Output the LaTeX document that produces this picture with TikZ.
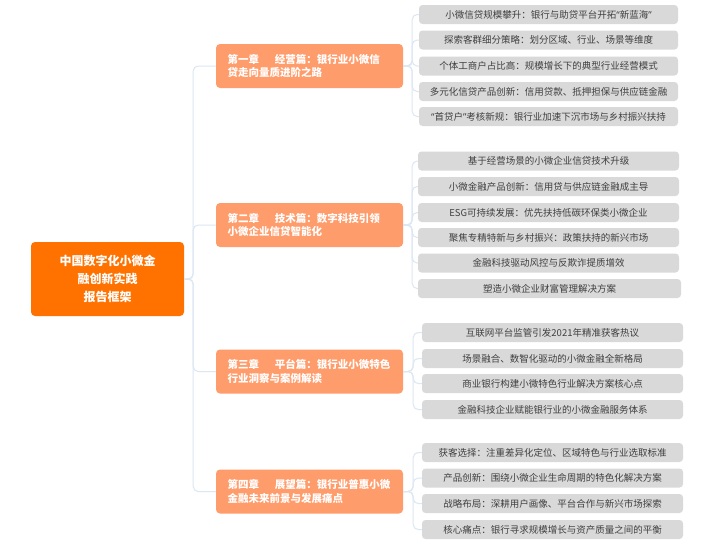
\documentclass[tikz,border=0pt]{standalone}
\usepackage{fontspec}
\newfontfamily\cjk{Noto Sans CJK SC}
\newfontfamily\latq{Noto Sans}
\definecolor{rootc}{HTML}{FF7200}
\definecolor{chc}{HTML}{FF9C6B}
\definecolor{leafc}{HTML}{D9D9D9}
\definecolor{leaft}{HTML}{3F3F3F}
\definecolor{linec}{HTML}{DCE7F4}
\tikzset{
  rootbox/.style={fill=rootc, rounded corners=4pt, text=white, font=\cjk\bfseries\fontsize{12}{18}\selectfont, align=center, minimum width=153pt, minimum height=74pt, inner sep=0pt},
  chbox/.style={fill=chc, rounded corners=4pt, text=white, font=\cjk\bfseries\fontsize{10.5}{13.5}\selectfont, align=left, text width=164pt, minimum width=187pt, minimum height=44pt, inner xsep=11.5pt, inner ysep=0pt},
  leafbox/.style={fill=leafc, rounded corners=3.5pt, text=leaft, font=\cjk\fontsize{9.5}{11}\selectfont, minimum height=19pt, inner sep=0pt},
  conn/.style={draw=linec, line width=1pt, rounded corners=5pt}
}
\newcommand{\chgap}{\hspace{1.5em}}
\newcommand{\myLq}{{\latq “}}
\newcommand{\myRq}{{\latq ”}}
\begin{document}
\begin{tikzpicture}[x=1pt,y=-1pt]
\useasboundingbox (0,0) rectangle (714,544);
\fill[white] (0,0) rectangle (714,544);

\node[rootbox] (root) at (107.5,279) {中国数字化小微金\\融创新实践\\报告框架};

\node[chbox] (c1) at (309.5,66) {第一章\chgap 经营篇：银行业小微信\\贷走向量质进阶之路};
\node[chbox] (c2) at (309.5,225) {第二章\chgap 技术篇：数字科技引领\\小微企业信贷智能化};
\node[chbox] (c3) at (309.5,371.5) {第三章\chgap 平台篇：银行业小微特色\\行业洞察与案例解读};
\node[chbox] (c4) at (309.5,491.5) {第四章\chgap 展望篇：银行业普惠小微\\金融未来前景与发展痛点};

% group 1
\node[leafbox, minimum width=259pt] (l11) at (548.5,14.5) {小微信贷规模攀升：银行与助贷平台开拓\myLq 新蓝海\myRq};
\node[leafbox, minimum width=259pt] (l12) at (548.5,40) {探索客群细分策略：划分区域、行业、场景等维度};
\node[leafbox, minimum width=259pt] (l13) at (548.5,66) {个体工商户占比高：规模增长下的典型行业经营模式};
\node[leafbox, minimum width=259pt] (l14) at (548.5,91.5) {多元化信贷产品创新：信用贷款、抵押担保与供应链金融};
\node[leafbox, minimum width=259pt] (l15) at (548.5,116.5) {\myLq 首贷户\myRq 考核新规：银行业加速下沉市场与乡村振兴扶持};

% group 2
\node[leafbox, minimum width=261pt] (l21) at (548.5,161) {基于经营场景的小微企业信贷技术升级};
\node[leafbox, minimum width=261pt] (l22) at (548.5,186.5) {小微金融产品创新：信用贷与供应链金融成主导};
\node[leafbox, minimum width=261pt] (l23) at (548.5,212.5) {ESG可持续发展：优先扶持低碳环保类小微企业};
\node[leafbox, minimum width=261pt] (l24) at (548.5,237.5) {聚焦专精特新与乡村振兴：政策扶持的新兴市场};
\node[leafbox, minimum width=261pt] (l25) at (548.5,263) {金融科技驱动风控与反欺诈提质增效};
\node[leafbox, minimum width=263pt] (l26) at (549.5,288.5) {塑造小微企业财富管理解决方案};

% group 3
\node[leafbox, minimum width=261pt] (l31) at (552.5,332.5) {互联网平台监管引发2021年精准获客热议};
\node[leafbox, minimum width=261pt] (l32) at (552.5,358.5) {场景融合、数智化驱动的小微金融全新格局};
\node[leafbox, minimum width=261pt] (l33) at (552.5,383.5) {商业银行构建小微特色行业解决方案核心点};
\node[leafbox, minimum width=261pt] (l34) at (552.5,409.5) {金融科技企业赋能银行业的小微金融服务体系};

% group 4
\node[leafbox, minimum width=261pt] (l41) at (552.5,452.5) {获客选择：注重差异化定位、区域特色与行业选取标准};
\node[leafbox, minimum width=261pt] (l42) at (552.5,478) {产品创新：围绕小微企业生命周期的特色化解决方案};
\node[leafbox, minimum width=261pt] (l43) at (552.5,503.5) {战略布局：深耕用户画像、平台合作与新兴市场探索};
\node[leafbox, minimum width=261pt] (l44) at (552.5,529.5) {核心痛点：银行寻求规模增长与资产质量之间的平衡};

\foreach \c in {c1,c2,c3,c4}
  \draw[conn] (root.east) -- ++(9,0) |- (\c.west);
\foreach \l in {l11,l12,l13,l14,l15}
  \draw[conn] (c1.east) -- ++(9,0) |- (\l.west);
\foreach \l in {l21,l22,l23,l24,l25,l26}
  \draw[conn] (c2.east) -- ++(9,0) |- (\l.west);
\foreach \l in {l31,l32,l33,l34}
  \draw[conn] (c3.east) -- ++(10,0) |- (\l.west);
\foreach \l in {l41,l42,l43,l44}
  \draw[conn] (c4.east) -- ++(10,0) |- (\l.west);
\end{tikzpicture}
\end{document}
